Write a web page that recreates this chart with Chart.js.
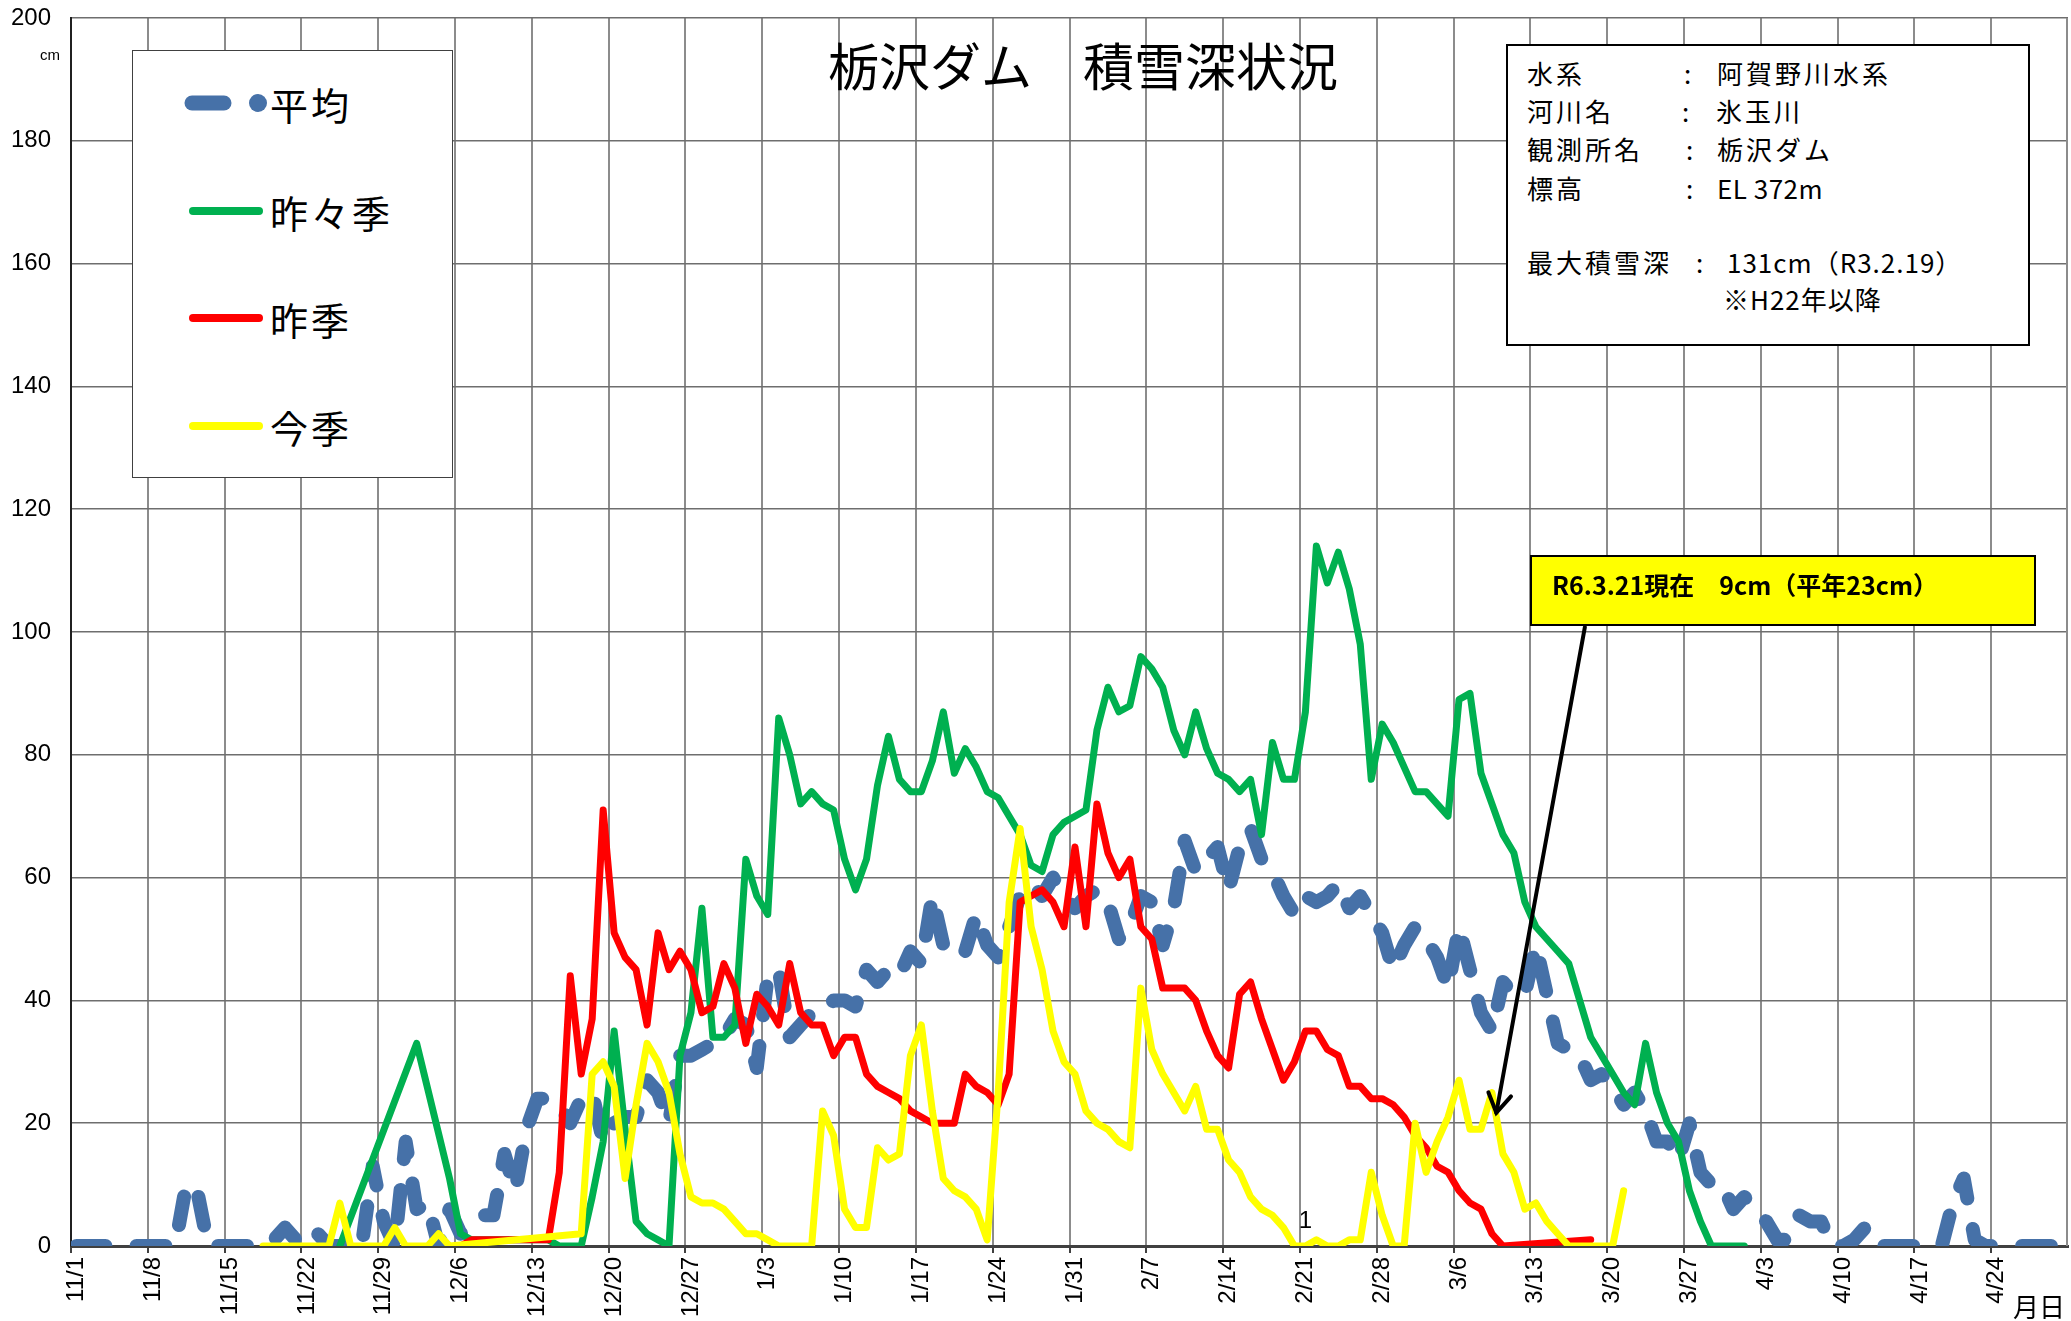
<!DOCTYPE html>
<html lang="ja">
<head>
<meta charset="utf-8">
<script src="https://cdn.jsdelivr.net/npm/chart.js@4.4.1/dist/chart.umd.min.js"></script>
<style>
html,body{margin:0;padding:0;background:#fff;}
#wrap{position:relative;width:2071px;height:1321px;overflow:hidden;font-family:"Noto Sans CJK JP","Noto Sans",sans-serif;color:#000;}
#c{position:absolute;left:0;top:0;}
.abs{position:absolute;white-space:nowrap;}
#legendBox{position:absolute;left:132px;top:50px;width:321px;height:428px;background:#fff;border:1px solid #404040;box-sizing:border-box;}
.lg{position:absolute;left:270px;font-size:38px;line-height:44px;letter-spacing:3px;}
#infoBox{position:absolute;left:1506px;top:44px;width:524px;height:302px;background:#fff;border:2px solid #000;box-sizing:border-box;}
.inf{position:absolute;font-size:26px;line-height:32px;white-space:nowrap;letter-spacing:3px;}
.lat{letter-spacing:0.5px;}
#noteBox{position:absolute;left:1530px;top:555px;width:506px;height:71px;background:#FFFF00;border:2px solid #000;box-sizing:border-box;}
#noteText{position:absolute;left:1552px;top:567px;font-size:25px;line-height:34px;font-weight:bold;white-space:nowrap;}
</style>
</head>
<body>
<div id="wrap">
<canvas id="c" width="2071" height="1321" style="width:2071px;height:1321px"></canvas>

<div class="abs" style="left:1083px;top:32px;transform:translateX(-50%);font-size:51px;line-height:64px;">栃沢ダム　積雪深状況</div>

<div id="legendBox"></div>
<svg class="abs" style="left:0;top:0" width="2071" height="1321">
  <line x1="192" y1="103" x2="224" y2="103" stroke="#4671A8" stroke-width="15" stroke-linecap="round"/>
  <circle cx="258" cy="103" r="9" fill="#4671A8"/>
  <line x1="193" y1="211" x2="259" y2="211" stroke="#00B050" stroke-width="8" stroke-linecap="round"/>
  <line x1="193" y1="318" x2="259" y2="318" stroke="#FF0000" stroke-width="8" stroke-linecap="round"/>
  <line x1="193" y1="426" x2="259" y2="426" stroke="#FFFF00" stroke-width="8" stroke-linecap="round"/>
</svg>
<div class="lg" style="top:82px">平均</div>
<div class="lg" style="top:190px">昨々季</div>
<div class="lg" style="top:297px">昨季</div>
<div class="lg" style="top:405px">今季</div>

<div id="infoBox"></div>
<div class="inf" style="left:1527px;top:57px">水系</div>
<div class="inf" style="left:1684px;top:57px">:</div>
<div class="inf" style="left:1717px;top:57px">阿賀野川水系</div>
<div class="inf" style="left:1527px;top:95px">河川名</div>
<div class="inf" style="left:1682px;top:95px">:</div>
<div class="inf" style="left:1716px;top:95px">氷玉川</div>
<div class="inf" style="left:1527px;top:133px">観測所名</div>
<div class="inf" style="left:1686px;top:133px">:</div>
<div class="inf" style="left:1717px;top:133px">栃沢ダム</div>
<div class="inf" style="left:1527px;top:172px">標高</div>
<div class="inf" style="left:1686px;top:172px">:</div>
<div class="inf lat" style="left:1717px;top:172px">EL 372m</div>
<div class="inf" style="left:1527px;top:246px">最大積雪深</div>
<div class="inf" style="left:1696px;top:246px">:</div>
<div class="inf" style="left:1727px;top:246px;letter-spacing:1px;">131cm（R3.2.19）</div>
<div class="inf" style="left:1723px;top:283px;letter-spacing:1px;">※H22年以降</div>

<div id="noteBox"></div>
<div id="noteText">R6.3.21現在　9cm（平年23cm）</div>

<div class="abs" style="left:40px;top:45px;font-size:15px;line-height:20px;font-family:'Liberation Sans',Arial,sans-serif;">cm</div>
<div class="abs" style="left:2013px;top:1290px;font-size:26px;line-height:32px;">月日</div>
</div>

<script>
const N = null;

// Tick labels (weekly)
const tickLabels = ['11/1','11/8','11/15','11/22','11/29','12/6','12/13','12/20','12/27','1/3','1/10','1/17','1/24','1/31','2/7','2/14','2/21','2/28','3/6','3/13','3/20','3/27','4/3','4/10','4/17','4/24'];

// Categories: every day from 11/1 to 4/30 (leap year February)
const monthLengths = [[11,30],[12,31],[1,31],[2,29],[3,31],[4,30]];
const categories = [];
for (const [m, len] of monthLengths) for (let d = 1; d <= len; d++) categories.push(m + '/' + d);

// 平均 (average) snow depth, cm — one value per category, grouped by week
const average = [
  0,0,0,0,0,0,0,
  0,0,0,10,9,0,0,
  0,0,0,0,1,3,1,
  3,2,0,0,0,0,13,
  4,0,17,6,7,0,6,
  2,4,5,5,15,9,19,
  24,24,23,20,24,25,17,
  20,21,21,27,25,20,31,
  31,32,33,34,37,36,29,
  44,45,34,36,38,38,40,
  40,39,45,43,45,44,48,
  46,57,49,50,48,54,49,
  47,52,57,59,57,60,57,
  55,57,58,56,50,52,57,
  56,49,55,66,61,63,65,
  58,65,68,63,61,57,54,
  57,56,57,59,55,57,54,
  51,45,49,52,50,47,42,
  52,45,38,35,43,41,41,
  49,41,33,32,31,27,28,
  26,23,25,22,17,17,14,
  20,12,10,10,6,8,6,
  4,1,1,5,4,4,0,
  0,1,3,0,0,0,0,
  0,0,0,7,11,1,0,
  0,0,0,0,0,0,0
];

// 昨々季 (two seasons ago)
const twoSeasonsAgo = [
  N,N,N,N,N,N,N,
  N,N,N,N,N,N,N,
  N,N,N,N,N,N,N,
  N,N,N,0,N,N,N,
  N,N,N,33,N,N,11,
  2,1,1,1,1,1,1,
  1,1,0,0,0,8,17,
  35,19,4,2,1,0,31,
  38,55,34,34,36,63,57,
  54,86,80,72,74,72,71,
  63,58,63,75,83,76,74,
  74,79,87,77,81,78,74,
  73,70,67,62,61,67,69,
  70,71,84,91,87,88,96,
  94,91,84,80,87,81,77,
  76,74,76,67,82,76,76,
  87,114,108,113,107,98,76,
  85,82,78,74,74,72,70,
  89,90,77,72,67,64,56,
  52,50,48,46,40,34,31,
  28,25,23,33,25,20,17,
  9,4,0,0,0,0,N,
  N,N,N,N,N,N,N,
  N,N,N,N,N,N,N,
  N,N,N,N,N,N,N,
  N,N,N,N,N,N,N
];

// 昨季 (last season)
const lastSeason = [
  N,N,N,N,N,N,N,
  N,N,N,N,N,N,N,
  N,N,N,N,N,N,N,
  N,N,N,N,N,N,N,
  N,N,N,N,N,N,N,
  0,1,1,N,N,N,N,
  N,1,12,44,28,37,71,
  51,47,45,36,51,45,48,
  45,38,39,46,42,33,41,
  39,36,46,38,36,36,31,
  34,34,28,26,25,24,22,
  21,20,20,20,28,26,25,
  23,28,56,57,58,56,52,
  65,52,72,64,60,63,52,
  50,42,42,42,40,35,31,
  29,41,43,37,32,27,30,
  35,35,32,31,26,26,24,
  24,23,21,18,16,13,12,
  9,7,6,2,0,N,N,
  N,N,N,N,N,1,N,
  N,N,N,N,N,N,N,
  N,N,N,N,N,N,N,
  N,N,N,N,N,N,N,
  N,N,N,N,N,N,N,
  N,N,N,N,N,N,N,
  N,N,N,N,N,N,N
];

// 今季 (this season)
const thisSeason = [
  N,N,N,N,N,N,N,
  N,N,N,N,N,N,N,
  N,N,N,0,0,0,0,
  0,0,0,7,0,0,0,
  0,3,0,0,0,2,0,
  N,N,N,N,N,N,N,
  N,N,N,N,2,28,30,
  26,11,23,33,30,25,15,
  8,7,7,6,4,2,2,
  1,0,0,0,0,22,18,
  6,3,3,16,14,15,31,
  36,22,11,9,8,6,1,
  25,56,68,52,45,35,30,
  28,22,20,19,17,16,42,
  32,28,25,22,26,19,19,
  14,12,8,6,5,3,0,
  0,1,0,0,1,1,12,
  5,0,0,20,12,17,21,
  27,19,19,25,15,12,6,
  7,4,2,0,0,0,0,
  0,9,N,N,N,N,N,
  N,N,N,N,N,N,N,
  N,N,N,N,N,N,N,
  N,N,N,N,N,N,N,
  N,N,N,N,N,N,N,
  N,N,N,N,N,N,N
];

// annotation helpers (data space)
const dataLabel = {text: '1', category: 112};
const arrow = {from: [137.97, 100.8], to: [129.9, 21.7]};

// each category occupies one unit; points sit in the middle of their category
const toPoints = arr => arr.map((v, i) => ({x: i + 0.5, y: v}));

const extras = {
  id: 'extras',
  afterDraw(chart) {
    const {ctx, chartArea: a, scales: {x, y}} = chart;
    ctx.save();
    // right border of plot area
    ctx.strokeStyle = '#8c8c8c';
    ctx.lineWidth = 2;
    ctx.beginPath();
    ctx.moveTo(a.right - 1, a.top);
    ctx.lineTo(a.right - 1, a.bottom);
    ctx.stroke();
    // data label
    ctx.fillStyle = '#000';
    ctx.font = '24px "Liberation Sans", Arial, sans-serif';
    ctx.textAlign = 'center';
    ctx.textBaseline = 'middle';
    ctx.fillText(dataLabel.text, x.getPixelForValue(dataLabel.category + 0.5), y.getPixelForValue(4));
    // arrow
    const x1 = x.getPixelForValue(arrow.from[0]), y1 = y.getPixelForValue(arrow.from[1]);
    const x2 = x.getPixelForValue(arrow.to[0]), y2 = y.getPixelForValue(arrow.to[1]);
    ctx.strokeStyle = '#000';
    ctx.lineWidth = 4;
    ctx.lineCap = 'round';
    ctx.beginPath();
    ctx.moveTo(x1, y1);
    ctx.lineTo(x2, y2);
    ctx.stroke();
    const ang = Math.atan2(y2 - y1, x2 - x1);
    const L = 22, w = 0.55;
    ctx.beginPath();
    ctx.moveTo(x2 - L * Math.cos(ang - w), y2 - L * Math.sin(ang - w));
    ctx.lineTo(x2, y2);
    ctx.lineTo(x2 - L * Math.cos(ang + w), y2 - L * Math.sin(ang + w));
    ctx.stroke();
    ctx.restore();
  }
};

const tickFont = {family: '"Liberation Sans", Arial, sans-serif', size: 24};

new Chart(document.getElementById('c'), {
  type: 'line',
  data: {
    datasets: [
      {label: '今季', data: toPoints(thisSeason), borderColor: '#FFFF00', borderWidth: 7, pointRadius: 0, spanGaps: true, order: 1, borderJoinStyle: 'round', borderCapStyle: 'round'},
      {label: '昨季', data: toPoints(lastSeason), borderColor: '#FF0000', borderWidth: 7, pointRadius: 0, spanGaps: true, order: 2, borderJoinStyle: 'round', borderCapStyle: 'round'},
      {label: '昨々季', data: toPoints(twoSeasonsAgo), borderColor: '#00B050', borderWidth: 7, pointRadius: 0, spanGaps: true, order: 3, borderJoinStyle: 'round', borderCapStyle: 'round'},
      {label: '平均', data: toPoints(average), borderColor: '#4671A8', borderWidth: 14, borderDash: [29, 31], pointRadius: 0, spanGaps: false, order: 4, borderJoinStyle: 'round', borderCapStyle: 'round'}
    ]
  },
  options: {
    responsive: false,
    animation: false,
    devicePixelRatio: 1,
    layout: {padding: {top: 18, right: 3, left: 0, bottom: 0}},
    plugins: {legend: {display: false}, tooltip: {enabled: false}},
    scales: {
      x: {
        type: 'linear',
        min: 0,
        max: categories.length,
        afterFit(s) { s.height = 75; },
        afterBuildTicks(s) { s.ticks = tickLabels.map((_, k) => ({value: k * 7})); },
        ticks: {
          autoSkip: false,
          maxRotation: 90,
          minRotation: 90,
          labelOffset: 5.5,
          padding: 4,
          color: '#000',
          font: tickFont,
          callback: v => tickLabels[Math.round(v / 7)] ?? ''
        },
        grid: {color: '#8c8c8c', lineWidth: 2, drawTicks: true, tickLength: 7, tickColor: '#404040', tickWidth: 2},
        border: {color: '#404040', width: 3}
      },
      y: {
        min: 0,
        max: 200,
        afterFit(s) { s.width = 71; },
        ticks: {stepSize: 20, padding: 2, color: '#000', font: tickFont},
        grid: {color: '#6e6e6e', lineWidth: 1.5, drawTicks: true, tickLength: 18, tickColor: 'rgba(0,0,0,0)'},
        border: {color: '#202020', width: 2}
      }
    }
  },
  plugins: [extras]
});
</script>
</body>
</html>
